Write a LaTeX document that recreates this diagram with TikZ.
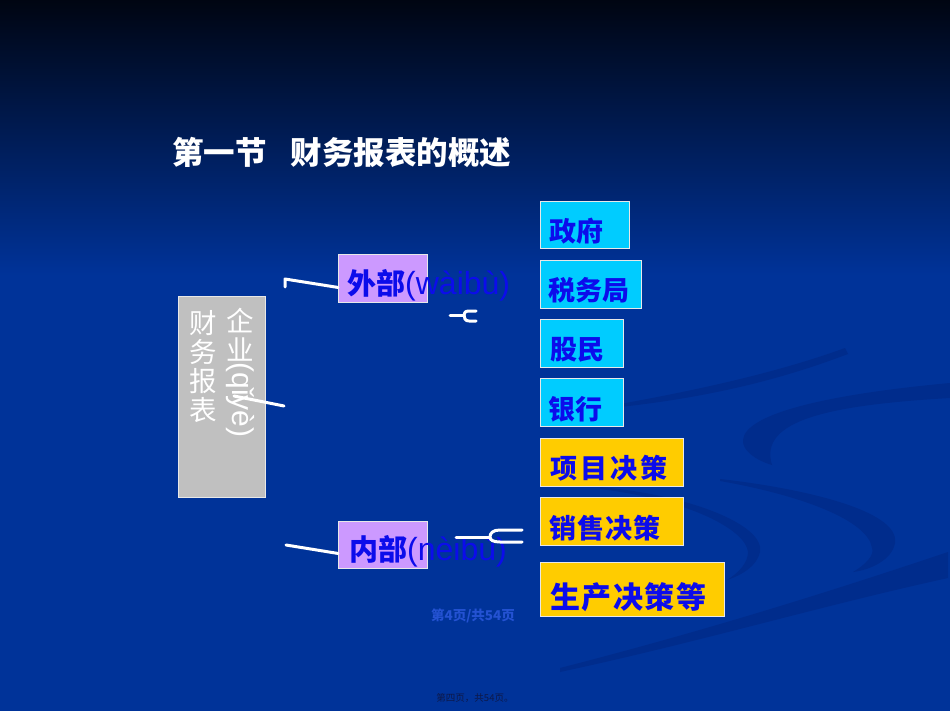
\documentclass[tikz,border=0pt]{standalone}
\usepackage{fontspec}
\usetikzlibrary{calc}
\newfontfamily\cjk{Noto Sans CJK SC}
\newfontfamily\lat{Liberation Sans}
\definecolor{bgblue}{RGB}{0,51,153}
\definecolor{topdark}{RGB}{0,5,18}
\definecolor{swoosh}{RGB}{0,44,140}
\definecolor{cyanbox}{RGB}{0,204,255}
\definecolor{yellowbox}{RGB}{255,204,0}
\definecolor{purplebox}{RGB}{204,153,255}
\definecolor{graybox}{RGB}{192,192,192}
\definecolor{txtblue}{RGB}{12,12,235}
\definecolor{pageblue}{RGB}{36,82,210}
\definecolor{footdark}{RGB}{14,24,72}
\begin{document}
\begin{tikzpicture}[x=1pt,y=-1pt,
  box/.style={draw=white!82!gray, line width=0.9pt, inner sep=0pt, anchor=north west},
  bt/.style={text=txtblue, font=\cjk\bfseries\fontsize{27}{27}\selectfont, inner sep=0pt, anchor=west},
  vt/.style={text=white, font=\cjk\fontsize{27.5}{28}\selectfont, inner sep=0pt},
  wl/.style={draw=white, line width=3pt, line cap=round, line join=round},
  sw/.style={fill=swoosh}]
\useasboundingbox (0,0) rectangle (950,711);
\fill[bgblue] (0,0) rectangle (950,711);
\shade[top color=topdark, bottom color=bgblue] (0,0) rectangle (950,275);
% background swooshes
\fill[sw] (620,404) .. controls (720,386) and (790,368) .. (845,348) -- (848,354) .. controls (790,376) and (720,396) .. (620,407) -- cycle;
\fill[sw] (743,440) .. controls (745,415) and (820,395) .. (950,383) -- (950,398) .. controls (830,405) and (758,420) .. (772,465) .. controls (755,460) and (742,450) .. (743,440) -- cycle;
\fill[sw] (720,479) .. controls (800,488) and (900,510) .. (895,543) .. controls (892,560) and (870,570) .. (853,572) .. controls (865,565) and (875,555) .. (872,548) .. controls (868,520) and (800,495) .. (720,481) -- cycle;
\fill[sw] (600,487) .. controls (690,495) and (765,525) .. (760,552) .. controls (757,566) and (742,575) .. (727,580) .. controls (740,572) and (748,562) .. (748,552) .. controls (746,530) and (690,500) .. (600,489) -- cycle;
\fill[sw] (560,668) .. controls (700,632) and (820,595) .. (948,552) -- (948,578) .. controls (820,606) and (700,642) .. (560,672) -- cycle;
% title
\node[text=white, font=\cjk\bfseries\fontsize{31.5}{32}\selectfont, inner sep=0pt, anchor=west] (title) at (172,152) {第一节\hspace{24pt}财务报表的概述};
% left gray box
\node[box, fill=graybox, minimum width=87, minimum height=201] (qy) at (178,296) {};
\node[vt] (c1) at (203,323) {财};
\node[vt] (c2) at (203,352) {务};
\node[vt] (c3) at (203,381) {报};
\node[vt] (c4) at (203,410) {表};
\node[vt] (c5) at (240,321) {企};
\node[vt] (c6) at (240,349) {业};
\node[text=white, font=\lat\fontsize{30}{30}\selectfont, inner sep=0pt, rotate=-90] (c7) at (240,400) {(qǐyè)};
% purple boxes
\node[box, fill=purplebox, minimum width=89, minimum height=48] (wai) at (338,254) {};
\node[text=txtblue, inner sep=0pt, anchor=west] (waitxt) at (347,285) {\cjk\bfseries\fontsize{29}{29}\selectfont 外部\lat\mdseries\fontsize{32}{32}\selectfont(wàibù)};
\node[box, fill=purplebox, minimum width=89, minimum height=47] (nei) at (338,521) {};
\node[text=txtblue, inner sep=0pt, anchor=west] (neitxt) at (349,551) {\cjk\bfseries\fontsize{29}{29}\selectfont 内部\lat\mdseries\fontsize{32}{32}\selectfont(nèibù)};
% cyan boxes
\node[box, fill=cyanbox, minimum width=89, minimum height=47] (zf) at (540,201) {};
\node[bt] (zft) at (549,231) {政府};
\node[box, fill=cyanbox, minimum width=101, minimum height=48] (swj) at (540,260) {};
\node[bt] (swjt) at (548,290) {税务局};
\node[box, fill=cyanbox, minimum width=83, minimum height=48] (gm) at (540,319) {};
\node[bt] (gmt) at (550,350) {股民};
\node[box, fill=cyanbox, minimum width=83, minimum height=48] (yh) at (540,378) {};
\node[bt] (yht) at (548,409) {银行};
% yellow boxes
\node[box, fill=yellowbox, minimum width=143, minimum height=48] (xm) at (540,438) {};
\node[bt] (xmt) at (550,468) {项\kern3pt 目\kern3pt 决\kern3pt 策};
\node[box, fill=yellowbox, minimum width=143, minimum height=48] (xs) at (540,497) {};
\node[bt] (xst) at (549,528) {销\kern1pt 售\kern1pt 决\kern1pt 策};
\node[box, fill=yellowbox, minimum width=184, minimum height=54] (sc) at (540,562) {};
\node[bt, font=\cjk\bfseries\fontsize{30}{30}\selectfont] (sct) at (550,597) {生\kern1.5pt 产\kern1.5pt 决\kern1.5pt 策\kern1.5pt 等};
% white brace fragments
\coordinate (a0) at (285,287);
\coordinate (a1) at (285,279);
\draw[wl] (a0) -- (a1) -- ($(wai.west)+(0,9)$);
\coordinate (b0) at (234,396);
\coordinate (b1) at (284,406);
\draw[wl] (b0) -- (b1);
\coordinate (d0) at (286,545);
\draw[wl] (d0) -- ($(nei.west)+(0,8.5)$);
% fork near wai
\coordinate (f0) at (450,315);
\coordinate (f1) at (464,315);
\coordinate (f2) at (476,311);
\coordinate (f3) at (476,321);
\draw[wl] (f0) -- (f1);
\draw[wl] (f2) -- (469,311) .. controls (465,311) and (464,313) .. (f1) .. controls (464,318) and (465,321) .. (469,321) -- (f3);
% fork near nei
\coordinate (g0) at (456,537);
\coordinate (g1) at (490,537);
\coordinate (g2) at (522,530);
\coordinate (g3) at (522,542);
\draw[wl] (g0) -- (g1);
\draw[wl] (g2) -- (500,530) .. controls (493,530) and (490,533) .. (g1) .. controls (490,540) and (493,542) .. (500,542) -- (g3);
% page footers
\node[text=pageblue, font=\cjk\bfseries\fontsize{13.5}{14}\selectfont, inner sep=0pt] (pg) at (473,616) {第4页/共54页};
\node[text=footdark, font=\cjk\fontsize{9.5}{10}\selectfont, inner sep=0pt] (ft) at (475,698) {第四页，共54页。};
\end{tikzpicture}
\end{document}
